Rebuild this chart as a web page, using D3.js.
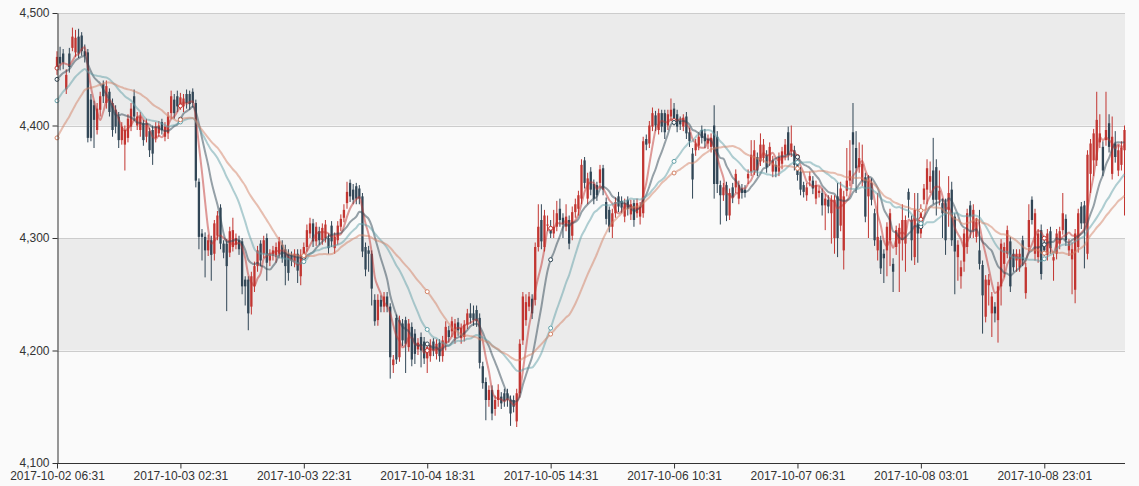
<!DOCTYPE html>
<html><head><meta charset="utf-8">
<script src="https://cdn.jsdelivr.net/npm/d3@7"></script>
<style>
html,body{margin:0;padding:0;background:#fafafa;}
svg{display:block;font-family:"Liberation Sans",Arial,Helvetica,sans-serif;}
</style>
</head><body>
<svg id="chart" width="1139" height="486"></svg>
<script>
// ---------- data ----------
const yTicks = [4100, 4200, 4300, 4400, 4500];
const tickLabels = ["2017-10-02 06:31","2017-10-03 02:31","2017-10-03 22:31","2017-10-04 18:31",
  "2017-10-05 14:31","2017-10-06 10:31","2017-10-07 06:31","2017-10-08 03:01","2017-10-08 23:01"];
const tickEvery = 40;
const maPeriods = [5, 10, 20, 30];
const maNames = ["MA5", "MA10", "MA20", "MA30"];
// closes before the visible window (needed for moving averages)
const warmupCloses = [4300,4305,4312,4318,4320,4325,4330,4334,4338,4348,
  4370,4380,4388,4395,4400,4405,4410,4418,4428,4436,
  4425,4430,4428,4434,4438,4442,4446,4450,4456];

const opens = [
4452,4461,4464,4432,4464,4469,4465,4479,4480,4466,
4465,4423,4418,4396,4414,4437,4420,4430,4420,4414,
4408,4387,4383,4389,4399,4426,4400,4396,4402,4390,
4395,4396,4389,4393,4403,4390,4393,4411,4423,4426,
4418,4417,4428,4428,4430,4420,4350,4304,4301,4289,
4298,4286,4302,4327,4295,4295,4287,4292,4294,4298,
4297,4263,4263,4239,4257,4275,4295,4286,4300,4280,
4284,4283,4286,4294,4290,4286,4285,4279,4286,4266,
4283,4292,4304,4313,4297,4306,4298,4300,4300,4311,
4291,4298,4310,4318,4331,4349,4343,4346,4344,4337,
4292,4289,4286,4245,4227,4245,4239,4248,4239,4187,
4229,4194,4224,4227,4203,4221,4215,4201,4212,4208,
4193,4195,4208,4197,4207,4195,4206,4218,4217,4211,
4225,4211,4212,4223,4233,4233,4236,4229,4186,4172,
4156,4165,4148,4156,4159,4162,4162,4156,4156,4137,
4162,4209,4227,4239,4246,4245,4292,4316,4292,4311,
4309,4304,4310,4326,4318,4310,4316,4302,4323,4326,
4335,4369,4335,4359,4348,4347,4349,4362,4332,4325,
4310,4322,4337,4333,4319,4334,4321,4331,4322,4319,
4322,4388,4384,4399,4409,4396,4411,4411,4400,4408,
4415,4410,4404,4399,4408,4394,4375,4378,4382,4396,
4393,4384,4381,4400,4390,4347,4338,4347,4320,4345,
4345,4335,4344,4343,4353,4359,4360,4372,4368,4371,
4374,4368,4359,4365,4359,4366,4374,4394,4377,4378,
4369,4359,4347,4338,4351,4351,4335,4340,4340,4329,
4334,4322,4300,4337,4311,4289,4342,4351,4394,4380,
4363,4351,4354,4337,4349,4322,4289,4298,4286,4289,
4298,4277,4292,4295,4298,4295,4341,4316,4283,4313,
4304,4334,4343,4350,4360,4363,4334,4331,4331,4325,
4343,4319,4283,4266,4279,4292,4329,4307,4301,4289,
4276,4230,4258,4233,4239,4227,4257,4277,4286,4297,
4286,4280,4274,4298,4251,4292,4334,4286,4283,4307,
4295,4285,4306,4280,4286,4295,4307,4317,4289,4281,
4254,4292,4328,4329,4286,4357,4369,4369,4385,4381,
4387,4402,4357,4384,4360,4365,4378];

const closes = [
4461,4455,4456,4445,4452,4479,4478,4464,4466,4462,
4389,4389,4405,4415,4426,4426,4435,4412,4396,4399,
4387,4399,4396,4406,4415,4408,4408,4408,4387,4402,
4378,4375,4399,4400,4396,4399,4408,4426,4411,4417,
4425,4424,4420,4419,4420,4351,4301,4301,4289,4298,
4285,4313,4320,4295,4287,4275,4306,4307,4300,4290,
4257,4257,4233,4266,4275,4289,4280,4298,4278,4286,
4289,4292,4297,4282,4275,4269,4280,4286,4271,4285,
4292,4307,4313,4297,4310,4298,4309,4312,4291,4297,
4301,4311,4317,4325,4341,4337,4334,4335,4335,4288,
4272,4286,4255,4226,4245,4239,4248,4239,4194,4192,
4192,4227,4209,4206,4224,4192,4197,4207,4200,4193,
4203,4205,4200,4206,4195,4209,4221,4212,4226,4224,
4218,4220,4223,4233,4229,4227,4226,4189,4171,4156,
4165,4144,4156,4165,4153,4155,4156,4144,4150,4162,
4206,4248,4243,4248,4233,4292,4310,4297,4320,4312,
4304,4310,4322,4316,4312,4319,4295,4323,4330,4338,
4365,4349,4353,4343,4335,4338,4361,4343,4317,4310,
4322,4332,4328,4327,4331,4326,4330,4316,4331,4328,
4386,4383,4400,4411,4400,4411,4399,4394,4410,4414,
4405,4399,4401,4407,4393,4386,4352,4384,4390,4389,
4386,4388,4389,4348,4348,4338,4345,4320,4340,4336,
4357,4347,4340,4340,4357,4374,4378,4360,4383,4383,
4363,4381,4369,4359,4372,4377,4383,4374,4384,4365,
4356,4343,4341,4345,4355,4344,4347,4342,4329,4335,
4328,4334,4334,4300,4344,4337,4351,4360,4383,4362,
4371,4366,4319,4351,4334,4298,4301,4273,4282,4310,
4322,4270,4307,4309,4316,4316,4334,4298,4325,4304,
4322,4344,4362,4355,4334,4334,4342,4322,4298,4340,
4298,4288,4294,4274,4304,4322,4319,4325,4314,4277,
4249,4263,4263,4248,4233,4257,4295,4292,4307,4257,
4274,4286,4286,4280,4274,4316,4316,4322,4304,4268,
4289,4304,4291,4283,4304,4306,4322,4298,4295,4290,
4304,4322,4313,4313,4374,4384,4393,4405,4393,4360,
4396,4381,4390,4372,4378,4380,4396];

const lows = [
4445,4449,4450,4428,4447,4466,4461,4460,4462,4456,
4385,4386,4380,4392,4408,4420,4415,4408,4390,4393,
4380,4383,4360,4385,4395,4404,4396,4390,4382,4385,
4372,4365,4385,4390,4392,4386,4388,4406,4406,4412,
4414,4412,4415,4414,4416,4345,4290,4280,4265,4284,
4262,4280,4298,4290,4282,4235,4283,4288,4290,4285,
4250,4240,4218,4232,4252,4270,4275,4282,4262,4275,
4280,4278,4282,4278,4258,4262,4275,4274,4260,4258,
4278,4288,4300,4292,4293,4294,4294,4296,4286,4292,
4286,4294,4306,4314,4326,4332,4330,4330,4330,4283,
4266,4270,4240,4222,4222,4234,4234,4234,4175,4180,
4188,4190,4204,4180,4199,4186,4188,4196,4185,4188,
4180,4190,4195,4192,4190,4190,4200,4207,4212,4206,
4213,4206,4208,4219,4224,4222,4221,4184,4166,4138,
4150,4138,4142,4150,4148,4150,4150,4133,4145,4132,
4158,4205,4222,4235,4228,4240,4288,4290,4288,4306,
4300,4300,4306,4310,4300,4306,4290,4298,4318,4320,
4330,4344,4330,4338,4330,4333,4344,4338,4312,4305,
4300,4318,4323,4322,4314,4320,4316,4310,4318,4312,
4318,4378,4380,4395,4395,4392,4394,4388,4396,4404,
4400,4394,4396,4395,4388,4381,4335,4373,4378,4384,
4380,4379,4376,4335,4340,4312,4333,4315,4316,4331,
4340,4330,4335,4336,4348,4355,4356,4355,4364,4367,
4358,4364,4354,4354,4355,4361,4369,4369,4372,4360,
4351,4338,4336,4333,4346,4339,4330,4336,4320,4307,
4322,4295,4286,4283,4306,4272,4337,4346,4348,4340,
4358,4346,4314,4300,4329,4293,4280,4268,4260,4266,
4275,4252,4285,4252,4280,4270,4318,4280,4276,4278,
4300,4330,4330,4340,4330,4320,4329,4300,4285,4310,
4293,4250,4262,4255,4270,4286,4300,4300,4296,4272,
4215,4225,4240,4212,4225,4207,4240,4265,4282,4252,
4270,4270,4270,4275,4246,4288,4312,4280,4278,4263,
4284,4280,4286,4262,4281,4290,4303,4293,4284,4250,
4242,4287,4308,4273,4281,4340,4355,4364,4380,4355,
4382,4376,4352,4367,4355,4360,4320];

const highs = [
4466,4470,4468,4450,4469,4487,4485,4486,4483,4472,
4468,4428,4422,4420,4430,4440,4440,4433,4424,4418,
4412,4403,4400,4410,4420,4432,4412,4412,4405,4406,
4398,4400,4403,4404,4406,4403,4412,4431,4428,4431,
4429,4428,4432,4431,4433,4423,4353,4308,4305,4303,
4302,4316,4324,4330,4298,4299,4310,4318,4304,4302,
4300,4266,4266,4270,4279,4293,4298,4302,4304,4290,
4293,4296,4301,4298,4294,4290,4288,4290,4290,4290,
4296,4312,4318,4317,4314,4310,4313,4316,4304,4315,
4305,4315,4321,4330,4350,4352,4348,4349,4347,4340,
4296,4293,4289,4250,4250,4249,4252,4252,4242,4196,
4232,4231,4228,4230,4228,4225,4219,4211,4216,4212,
4207,4210,4211,4210,4210,4213,4226,4222,4230,4228,
4229,4224,4227,4237,4242,4240,4240,4233,4190,4176,
4169,4169,4160,4170,4163,4166,4166,4160,4160,4166,
4210,4252,4250,4252,4250,4296,4330,4330,4325,4320,
4316,4325,4333,4335,4322,4330,4320,4328,4335,4342,
4370,4372,4358,4363,4352,4350,4365,4365,4336,4328,
4326,4336,4341,4337,4335,4337,4334,4334,4335,4332,
4390,4392,4404,4416,4413,4415,4414,4414,4414,4424,
4420,4414,4408,4410,4412,4398,4380,4388,4394,4400,
4397,4392,4393,4418,4395,4351,4349,4350,4344,4349,
4361,4351,4348,4347,4361,4387,4387,4376,4393,4388,
4378,4385,4373,4369,4376,4381,4388,4399,4400,4382,
4373,4363,4350,4349,4359,4355,4351,4346,4344,4339,
4338,4338,4338,4349,4350,4342,4380,4387,4420,4395,
4385,4383,4358,4356,4353,4326,4340,4302,4290,4314,
4326,4282,4311,4313,4330,4320,4344,4320,4340,4340,
4330,4348,4370,4368,4389,4370,4360,4335,4335,4355,
4350,4322,4298,4280,4308,4326,4333,4330,4318,4325,
4280,4267,4268,4252,4243,4261,4299,4296,4311,4301,
4290,4290,4290,4302,4278,4330,4337,4326,4308,4312,
4299,4308,4310,4286,4308,4310,4340,4321,4299,4296,
4308,4326,4332,4333,4378,4388,4397,4430,4410,4386,
4430,4410,4408,4395,4383,4386,4400];

// ---------- styles ----------
const upColor = "#c23531", downColor = "#314656";
const maColors = ["#c23531", "#2f4554", "#61a0a8", "#d48265"];
const bandColors = ["#fafafa", "#ebebeb"];

// ---------- layout ----------
const plot = {left: 57, right: 1125, top: 13, bottom: 463};
const svg = d3.select("#chart");
const n = closes.length;
const x = d3.scaleLinear().domain([0, n - 1]).range([plot.left, plot.right - 0.5]);
const y = d3.scaleLinear().domain([d3.min(yTicks), d3.max(yTicks)]).range([plot.bottom, plot.top]);

// split areas
const bands = d3.pairs(yTicks);
svg.append("g").selectAll("rect").data(bands).join("rect")
  .attr("x", plot.left).attr("width", plot.right - plot.left)
  .attr("y", d => y(d[1])).attr("height", d => y(d[0]) - y(d[1]))
  .attr("fill", (d, i) => bandColors[i % 2]);

// split lines
svg.append("g").selectAll("line").data(yTicks.slice(1)).join("line")
  .attr("x1", plot.left).attr("x2", plot.right)
  .attr("y1", d => Math.round(y(d)) + 0.5).attr("y2", d => Math.round(y(d)) + 0.5)
  .attr("stroke", "#ccc").attr("stroke-width", 1);

// candles
const idx = d3.range(n);
const bodyW = 2.3;
const cg = svg.append("g");
cg.selectAll("line.wick").data(idx).join("line").attr("class", "wick")
  .attr("x1", i => x(i)).attr("x2", i => x(i))
  .attr("y1", i => y(highs[i])).attr("y2", i => y(lows[i]))
  .attr("stroke", i => closes[i] >= opens[i] ? upColor : downColor)
  .attr("stroke-width", 1);
cg.selectAll("rect.body").data(idx).join("rect").attr("class", "body")
  .attr("x", i => x(i) - bodyW / 2).attr("width", bodyW)
  .attr("y", i => y(Math.max(opens[i], closes[i])))
  .attr("height", i => Math.max(1, Math.abs(y(opens[i]) - y(closes[i]))))
  .attr("fill", i => closes[i] >= opens[i] ? upColor : downColor);

// moving averages
const allCloses = warmupCloses.concat(closes);
const off = warmupCloses.length;
const maSeries = maPeriods.map(p => idx.map(i => d3.mean(allCloses.slice(i + off - p + 1, i + off + 1))));
const line = d3.line().x((d, i) => x(i)).y(d => y(d)).curve(d3.curveMonotoneX);
const tickIdx = d3.range(0, n, tickEvery);
maSeries.forEach((s, k) => {
  svg.append("path").datum(s).attr("d", line)
    .attr("fill", "none").attr("stroke", maColors[k]).attr("stroke-width", 2)
    .attr("stroke-opacity", 0.5).attr("data-name", maNames[k]);
});
maSeries.forEach((s, k) => {
  svg.append("g").selectAll("circle").data(tickIdx).join("circle")
    .attr("cx", i => x(i)).attr("cy", i => y(s[i])).attr("r", 2)
    .attr("fill", "#fff").attr("stroke", maColors[k]).attr("stroke-width", 1);
});

// axes
const yAxis = d3.axisLeft(y).tickValues(yTicks).tickFormat(d3.format(","))
  .tickSize(5).tickSizeOuter(0).tickPadding(3);
const gy = svg.append("g").attr("transform", `translate(${plot.left + 0.5},0)`).call(yAxis);
const xAxis = d3.axisBottom(x).tickValues(tickIdx).tickFormat((d, i) => tickLabels[i])
  .tickSize(5).tickSizeOuter(0).tickPadding(3);
const gx = svg.append("g").attr("transform", `translate(0,${plot.bottom + 0.5})`).call(xAxis);
gx.select(".domain").attr("d", `M${plot.left},0H${plot.right}`);
[gx, gy].forEach(g => {
  g.select(".domain").attr("stroke", "#333");
  g.selectAll(".tick line").attr("stroke", "#333");
  g.selectAll("text").attr("fill", "#333").style("font-size", "12px")
    .style("font-family", '"Liberation Sans", Arial, sans-serif');
});

if (!(opens.length === 347 && closes.length === 347 && lows.length === 347 && highs.length === 347)) {
  throw new Error("length mismatch " + [opens.length, closes.length, lows.length, highs.length]);
}
</script>
</body></html>
